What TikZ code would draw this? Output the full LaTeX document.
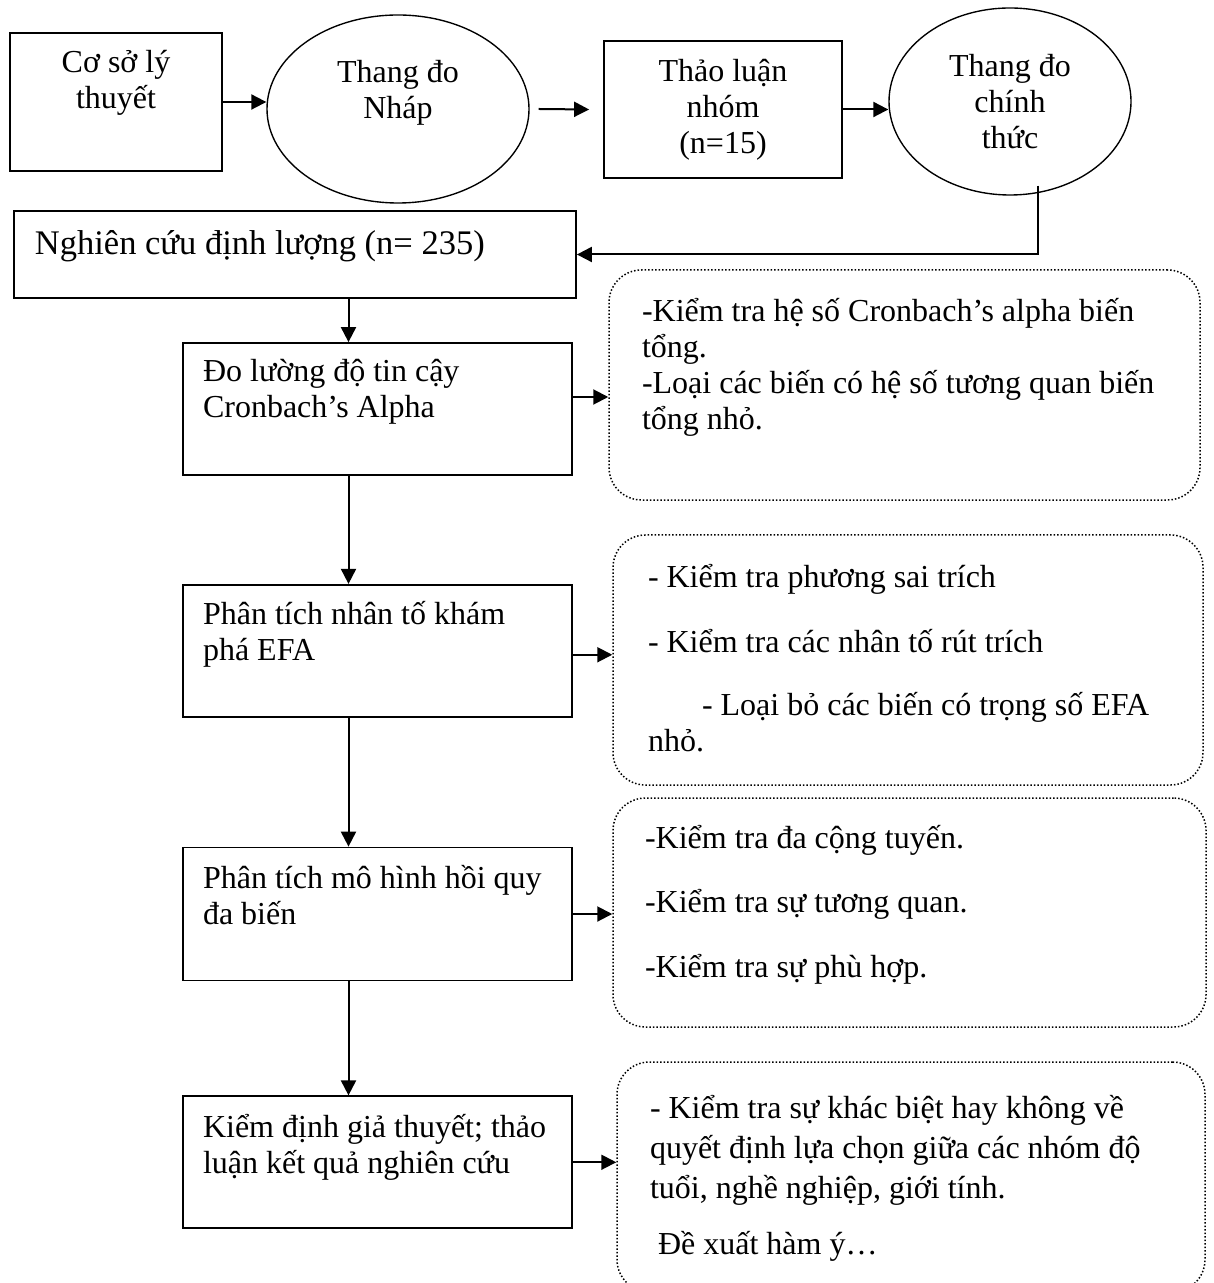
\documentclass[tikz,border=0pt]{standalone}
\usepackage{fontspec}
\setmainfont{Liberation Serif}
\usetikzlibrary{arrows.meta,positioning,shapes.geometric}
\tikzset{
  flow/.style={-{Triangle[length=6pt,width=6pt]}, line width=.8pt},
  stepbox/.style={draw, line width=.7pt},
  oval/.style={draw, ellipse, line width=.55pt},
  note/.style={draw, line width=.6pt, dash pattern=on .6pt off .8pt, rounded corners=13pt},
  inbox/.style n args={4}{inner sep=0pt,
    execute at begin node={\begin{minipage}[c][#1][t]{#2}#3\relax\rule{0pt}{#4}},
    execute at end node={\end{minipage}}}
}
\begin{document}
\begin{tikzpicture}[x=0.4pt, y=-0.4pt, every node/.append style={font=\fontsize{12.8}{14.4}\selectfont}]
  \useasboundingbox (0,0) rectangle (1213,1283);
  \clip (0,0) rectangle (1213,1283);
  % top row
  \node[stepbox, inbox={55.2pt}{84.8pt}{\centering}{16pt}] (cs) at (116,102) {Cơ sở lý\\thuyết};
  \node[oval, minimum width=104.8pt, minimum height=75.2pt, inbox={50pt}{60pt}{\centering}{14.6pt}] (nhap) at (398,109) {Thang đo\\Nháp};
  \node[stepbox, inbox={54.8pt}{95.2pt}{\centering}{16.4pt}] (tl) at (723,109.5) {Thảo luận\\nhóm\\(n=15)};
  \node[oval, minimum width=96.8pt, minimum height=74.8pt, inbox={50pt}{60pt}{\centering}{15.2pt}] (ct) at (1010,101.5) {Thang đo\\chính\\thức};
  % main column
  \node[stepbox, font=\fontsize{13.8}{15.6}\selectfont, inbox={34.8pt}{224.8pt}{\leftskip=8.4pt}{17.6pt}] (nq) at (295,254.5) {Nghiên cứu định lượng (n= 235)};
  \node[stepbox, inbox={52.8pt}{155.6pt}{\leftskip=8pt}{15.6pt}] (ncr) at (377.5,409) {Đo lường độ tin cậy\\Cronbach’s Alpha};
  \node[stepbox, below=43.2pt of ncr, inbox={52.8pt}{155.6pt}{\leftskip=8pt}{16pt}] (efa) {Phân tích nhân tố khám\\phá EFA};
  \node[stepbox, below=51.6pt of efa, inbox={53.2pt}{155.6pt}{\leftskip=8pt}{16.4pt}] (hq) {Phân tích mô hình hồi quy\\đa biến};
  \node[stepbox, below=45.6pt of hq, inbox={52.8pt}{155.6pt}{\leftskip=8pt}{16.4pt}] (kd) {Kiểm định giả thuyết; thảo\\luận kết quả nghiên cứu};
  % notes
  \node[note, inbox={92pt}{236.4pt}{\leftskip=13.2pt}{20.8pt}] (t1) at (904.5,385) {-Kiểm tra hệ số Cronbach’s alpha biến\\tổng.\\-Loại các biến có hệ số tương quan biến\\tổng nhỏ.};
  \node[note, inbox={100pt}{236pt}{\leftskip=14pt}{20.8pt}] (t2) at (908,660) {- Kiểm tra phương sai trích\\[11.6pt]- Kiểm tra các nhân tố rút trích\\[10.8pt]\hspace*{21.6pt}- Loại bỏ các biến có trọng số EFA\\nhỏ.};
  \node[note, inbox={91.6pt}{237.2pt}{\leftskip=12.8pt}{20pt}] (t3) at (909.5,912.5) {-Kiểm tra đa cộng tuyến.\\[11.2pt]-Kiểm tra sự tương quan.\\[11.6pt]-Kiểm tra sự phù hợp.};
  \node[note, inbox={92pt}{235.2pt}{\leftskip=13.2pt \baselineskip=16pt}{22.4pt}] (t4) at (911,1177) {- Kiểm tra sự khác biệt hay không về\\quyết định lựa chọn giữa các nhóm độ\\tuổi, nghề nghiệp, giới tính.\\[6.4pt]\hspace*{3.2pt}Đề xuất hàm ý…};
  \coordinate (ax) at (348.5,0);
  % connectors
  \draw[flow] (cs.east) -- (cs.east -| nhap.west);
  \draw[flow] ([xshift=3.6pt]nhap.east) -- ([xshift=-5.6pt]tl.west);
  \draw[flow] (tl.east) -- (tl.east -| ct.west);
  \draw[flow] ([xshift=11.2pt,yshift=4pt]ct.south) |- (nq.east);
  \draw[flow] (nq.south -| ax) -- (ncr.north -| ax);
  \draw[flow] (ncr.south -| ax) -- (efa.north -| ax);
  \draw[flow] (efa.south -| ax) -- (hq.north -| ax);
  \draw[flow] (hq.south -| ax) -- (kd.north -| ax);
  \draw[flow] ([yshift=4.8pt]ncr.east) coordinate (c1) -- (c1 -| t1.west);
  \draw[flow] ([yshift=-1.6pt]efa.east) coordinate (c2) -- (c2 -| t2.west);
  \draw[flow] (hq.east) -- (hq.east -| t3.west);
  \draw[flow] (kd.east) -- (kd.east -| t4.west);
\end{tikzpicture}
\end{document}
